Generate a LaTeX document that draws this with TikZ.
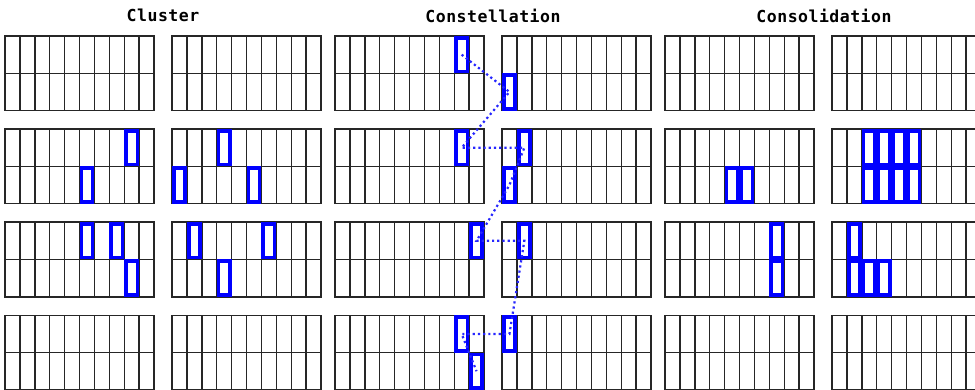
\documentclass[tikz,border=0pt]{standalone}
\usepackage{fontspec}
\newfontfamily\titlefont[LetterSpace=3]{DejaVu Sans Mono}
\usetikzlibrary{positioning}

% highlighted column cell: grid origin x, row top y, sub-row, column
\newcommand{\hcell}[5]{%
  \node[cell] (#1) at ({#2+(#5-0.5)*14.9},{#3+(#4-0.5)*37.3}) {};}

\begin{document}
\begin{tikzpicture}[
  x=1pt, y=-1pt,
  title/.style={font=\titlefont\bfseries\fontsize{16.5}{19}\selectfont, inner sep=0pt},
  gridline/.style={draw=black!85, line width=1.4pt},
  cell/.style={draw=blue, line width=3.6pt, fill=white, inner sep=0pt, outer sep=0pt,
    minimum width=11.3pt, minimum height=33.7pt},
  link/.style={draw=blue!85, line width=2.2pt, dash pattern=on 2.2pt off 3pt}
]
\useasboundingbox (0,0) rectangle (975,390);
\clip (0,0) rectangle (975,390);

% Titles
\node[title] (tcluster) at (163,15.5) {Cluster};
\node[title] (tconst)   at (493,15.5) {Constellation};
\node[title] (tconsol)  at (824,15.5) {Consolidation};

% Grids: 6 columns of 4 rows, each 10 x 2 cells
\foreach \gx in {5,172,335,502,665,832} {
  \foreach \gy in {36,129.1,222.2,315.3} {
    \draw[gridline] (\gx,\gy) rectangle ++(149,74.6);
    \draw[gridline] (\gx,\gy+37.3) -- ++(149,0);
    \foreach \c in {1,...,9}
      \draw[gridline] (\gx+\c*14.9,\gy) -- ++(0,74.6);
  }
}

% Cluster
\hcell{ca}{5}{129.1}{1}{9}
\hcell{cb}{5}{129.1}{2}{6}
\hcell{cc}{5}{222.2}{1}{6}
\hcell{cd}{5}{222.2}{1}{8}
\hcell{ce}{5}{222.2}{2}{9}
\hcell{cf}{172}{129.1}{1}{4}
\hcell{cg}{172}{129.1}{2}{1}
\hcell{ch}{172}{129.1}{2}{6}
\hcell{ci}{172}{222.2}{1}{2}
\hcell{cj}{172}{222.2}{1}{7}
\hcell{ck}{172}{222.2}{2}{4}

% Constellation
\hcell{a1}{335}{36}{1}{9}
\hcell{b1}{502}{36}{2}{1}
\hcell{a2}{335}{129.1}{1}{9}
\hcell{b2t}{502}{129.1}{1}{2}
\hcell{b2b}{502}{129.1}{2}{1}
\hcell{a3}{335}{222.2}{1}{10}
\hcell{b3}{502}{222.2}{1}{2}
\hcell{a4t}{335}{315.3}{1}{9}
\hcell{a4b}{335}{315.3}{2}{10}
\hcell{b4}{502}{315.3}{1}{1}

\draw[link] (a1.center) -- (b1.center) -- (a2.center) -- (b2t.center)
  -- (b2b.center) -- (a3.center) -- (b3.center) -- (b4.center)
  -- (a4t.center) -- (a4b.center);

% Consolidation
\hcell{da}{665}{129.1}{2}{5}
\hcell{db}{665}{129.1}{2}{6}
\hcell{dc}{665}{222.2}{1}{8}
\hcell{dd}{665}{222.2}{2}{8}
\foreach \c in {3,...,6} {
  \hcell{et\c}{832}{129.1}{1}{\c}
  \hcell{eb\c}{832}{129.1}{2}{\c}
}
\hcell{fa}{832}{222.2}{1}{2}
\foreach \c in {2,3,4} {
  \hcell{fb\c}{832}{222.2}{2}{\c}
}

\end{tikzpicture}
\end{document}
